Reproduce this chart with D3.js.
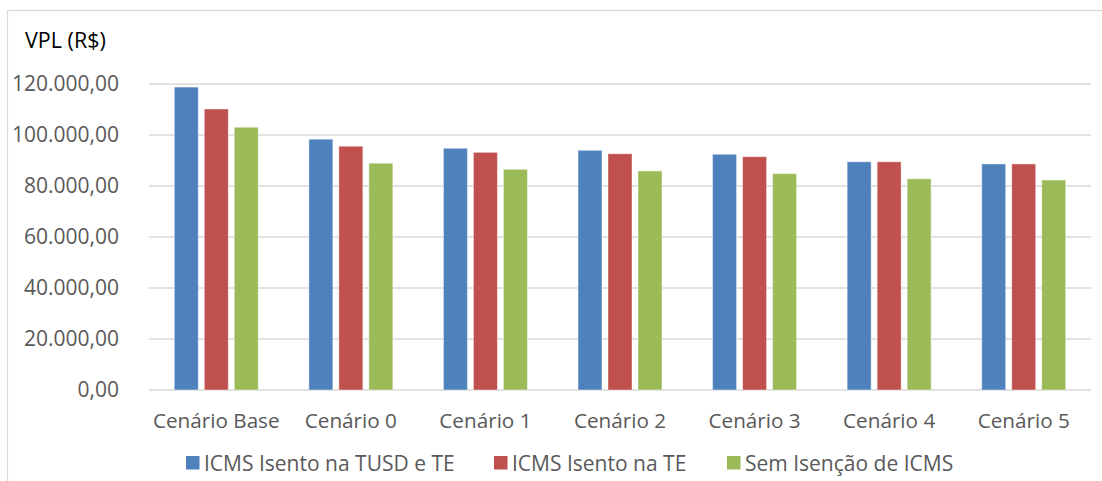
<!DOCTYPE html>
<html>
<head>
<meta charset="utf-8">
<script src="https://cdn.jsdelivr.net/npm/d3@7"></script>
<style>
  html, body { margin: 0; padding: 0; background: #fff; }
  svg { display: block; }
  text { font-family: "Open Sans", "Noto Sans", sans-serif; }
</style>
</head>
<body>
<svg id="chart" width="1102" height="481"></svg>
<script>
const categories = ["Cenário Base", "Cenário 0", "Cenário 1", "Cenário 2", "Cenário 3", "Cenário 4", "Cenário 5"];
const seriesNames = ["ICMS Isento na TUSD e TE", "ICMS Isento na TE", "Sem Isenção de ICMS"];
const seriesColors = ["#4F81BD", "#C0504D", "#9BBB59"];
const isentoTusdTe = [118800, 98350, 94800, 94000, 92450, 89500, 88650];
const isentoTe     = [110200, 95600, 93200, 92650, 91500, 89500, 88650];
const semIsencao   = [103050, 88950, 86550, 85900, 84850, 82850, 82350];
const yTicks = [0, 20000, 40000, 60000, 80000, 100000, 120000];
const yTitle = "VPL (R$)";

const seriesValues = [isentoTusdTe, isentoTe, semIsencao];
const svg = d3.select("#chart");

// chart border
svg.append("rect").attr("x", 7.5).attr("y", 10.5).attr("width", 1110).attr("height", 490)
  .attr("fill", "none").attr("stroke", "#d9d9d9").attr("stroke-width", 1.2);

const plot = { left: 149, right: 1091, top: 84, bottom: 390 };
const y = d3.scaleLinear().domain([0, 120000]).range([plot.bottom, plot.top]);
const x0 = d3.scaleBand().domain(categories).range([plot.left, plot.right]).padding(0);
const groupW = 84;
const x1 = d3.scaleBand().domain(seriesNames).range([0, groupW]).paddingInner(0.2).paddingOuter(0);

const fmt = v => {
  const s = d3.format(",.2f")(v);
  return s.replace(/,/g, "#").replace(/\./g, ",").replace(/#/g, ".");
};

// gridlines
svg.append("g").selectAll("line").data(yTicks).join("line")
  .attr("x1", plot.left).attr("x2", plot.right)
  .attr("y1", d => y(d)).attr("y2", d => y(d))
  .attr("stroke", "#d9d9d9").attr("stroke-width", 1.6);

// y tick labels
svg.append("g").selectAll("text").data(yTicks).join("text")
  .attr("x", 119).attr("y", d => y(d))
  .attr("dy", "0.35em")
  .attr("text-anchor", "end")
  .attr("font-size", 21).attr("fill", "#595959")
  .text(d => fmt(d));

// y title
svg.append("text").attr("x", 25).attr("y", 48)
  .attr("font-size", 21.5).attr("fill", "#000").text(yTitle);

// bars
const groups = svg.append("g").selectAll("g").data(categories).join("g")
  .attr("transform", c => `translate(${x0(c) + (x0.bandwidth() - groupW) / 2},0)`);
groups.selectAll("rect").data((c, i) => seriesNames.map((s, k) => ({ s, k, v: seriesValues[k][i] })))
  .join("rect")
  .attr("x", d => x1(d.s))
  .attr("width", x1.bandwidth())
  .attr("y", d => y(d.v))
  .attr("height", d => y(0) - y(d.v))
  .attr("fill", d => seriesColors[d.k])
  .attr("stroke", "rgba(255,255,255,0.45)")
  .attr("stroke-width", 1);

// category labels
svg.append("g").selectAll("text").data(categories).join("text")
  .attr("x", c => x0(c) + x0.bandwidth() / 2)
  .attr("y", 428)
  .attr("text-anchor", "middle")
  .attr("font-size", 20.7).attr("fill", "#595959")
  .text(c => c);

// legend
const legendX = [186, 494, 727];
const lg = svg.append("g").selectAll("g").data(seriesNames).join("g")
  .attr("transform", (d, i) => `translate(${legendX[i]},456)`);
lg.append("rect").attr("width", 13.5).attr("height", 13.5).attr("fill", (d, i) => seriesColors[i]);
lg.append("text").attr("x", 18).attr("y", 14.5).attr("font-size", 21).attr("fill", "#595959").text(d => d);
</script>
</body>
</html>
